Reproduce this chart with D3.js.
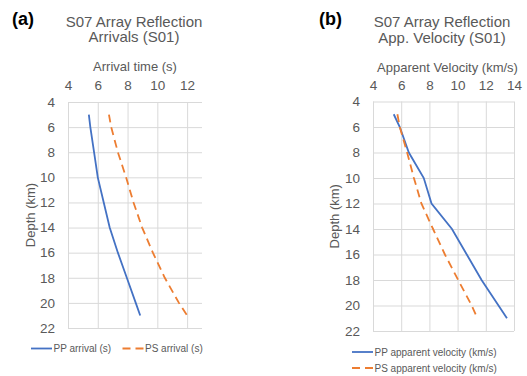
<!DOCTYPE html>
<html lang="en">
  <head>
    <meta charset="utf-8">
    <title>S07 Array Reflection</title>
    <script src="https://cdn.jsdelivr.net/npm/d3@7"></script>
    <style>
      body { margin: 0; background: #fff; }
      text { font-family: 'Liberation Sans', Arial, sans-serif; fill: #595959; }
    </style>
  </head>
  <body>
    <div id='chart'></div>

    <script type='text/javascript'>
      // depth points (km)
      let depths = [5, 6, 8, 10, 12, 14, 16, 18, 20, 21];

      // (a) arrival times (s)
      let ppArrival = [5.4, 5.5, 5.75, 6.0, 6.4, 6.8, 7.35, 7.95, 8.55, 8.85];
      let psArrival = [6.75, 6.9, 7.35, 7.9, 8.4, 8.98, 9.7, 10.5, 11.45, 12.0];

      // (b) apparent velocities (km/s)
      let ppVelocity = [5.47, 5.9, 6.54, 7.6, 8.15, 9.6, 10.65, 11.7, 12.9, 13.5];
      let psVelocity = [5.73, 5.9, 6.42, 6.9, 7.43, 8.26, 9.1, 10.04, 11.0, 11.4];

      let depthTicks = [4, 6, 8, 10, 12, 14, 16, 18, 20, 22];
      let timeTicks = [4, 6, 8, 10, 12];
      let velocityTicks = [4, 6, 8, 10, 12, 14];

      let blue = '#4472c4', orange = '#ed7d31', grid = '#d9d9d9';

      let svg = d3.select('#chart').append('svg')
        .attr('width', 527)
        .attr('height', 376)

      let panels = [
        { label: '(a)', labelX: 12, title: ['S07 Array Reflection', 'Arrivals (S01)'],
          titleX: 134, titleY: [26.5, 41.5], axisTitle: 'Arrival time (s)', axisTitleY: 71,
          left: 68, right: 202, top: 102, bottom: 328, xDomain: [4, 13], xTicks: timeTicks,
          depthX: 30,
          series: [
            { name: 'PP arrival (s)', values: ppArrival, color: blue },
            { name: 'PS arrival (s)', values: psArrival, color: orange, dash: '8,5' }
          ],
          legend: [ {x: 31, y: 348.5}, {x: 122.5, y: 348.5} ] },
        { label: '(b)', labelX: 319, title: ['S07 Array Reflection', 'App. Velocity (S01)'],
          titleX: 442, titleY: [27, 42.5], axisTitle: 'Apparent Velocity (km/s)', axisTitleY: 72,
          left: 373, right: 514, top: 101.5, bottom: 331, xDomain: [4, 14], xTicks: velocityTicks,
          depthX: 334,
          series: [
            { name: 'PP apparent velocity (km/s)', values: ppVelocity, color: blue },
            { name: 'PS apparent velocity (km/s)', values: psVelocity, color: orange, dash: '8,5' }
          ],
          legend: [ {x: 352, y: 352}, {x: 352, y: 368} ] }
      ];

      panels.forEach(drawPanel);

      function drawPanel(p){
        let x = d3.scaleLinear().domain(p.xDomain).range([p.left, p.right]);
        let y = d3.scaleLinear().domain([4, 22]).range([p.top, p.bottom]);
        let g = svg.append('g');

        // panel letter
        g.append('text')
          .attr('x', p.labelX)
          .attr('y', 25)
          .attr('font-family', 'DejaVu Sans')
          .attr('font-weight', 'bold')
          .attr('font-size', 18)
          .style('fill', '#000')
          .text(p.label)

        // title
        p.title.forEach((t, i) => {
          g.append('text')
            .attr('x', p.titleX)
            .attr('y', p.titleY[i])
            .attr('text-anchor', 'middle')
            .attr('font-size', 15)
            .text(t)
        })

        g.append('text')
          .attr('x', (p.left + p.right) / 2 + (p.label == '(b)' ? 4 : 0))
          .attr('y', p.axisTitleY)
          .attr('text-anchor', 'middle')
          .attr('font-size', 13)
          .text(p.axisTitle)

        // x axis on top, ticks drawn as gridlines
        let xAxis = g.append('g')
          .attr('transform', 'translate(0,' + p.top + ')')
          .call(d3.axisTop(x).tickValues(p.xTicks).tickSize(-(p.bottom - p.top)).tickPadding(12))
        xAxis.select('.domain').remove()
        xAxis.selectAll('line').attr('stroke', grid)
        xAxis.selectAll('text').attr('font-size', 13.5).style('fill', '#595959')

        let yAxis = g.append('g')
          .attr('transform', 'translate(' + p.left + ',0)')
          .call(d3.axisLeft(y).tickValues(depthTicks).tickSize(-(p.right - p.left)).tickPadding(13))
        yAxis.select('.domain').remove()
        yAxis.selectAll('line').attr('stroke', grid)
        yAxis.selectAll('text').attr('font-size', 13.5).style('fill', '#595959')

        g.append('text')
          .attr('transform', 'translate(' + (p.depthX + 4.5) + ',' + ((p.top + p.bottom) / 2) + ') rotate(-90)')
          .attr('text-anchor', 'middle')
          .attr('font-size', 13)
          .text('Depth (km)')

        let line = d3.line()
          .x((d) => x(d[1]))
          .y((d) => y(d[0]))

        p.series.forEach((s, i) => {
          g.append('path')
            .datum(depths.map((dep, j) => [dep, s.values[j]]))
            .attr('d', line)
            .attr('fill', 'none')
            .attr('stroke', s.color)
            .attr('stroke-width', 1.8)
            .attr('stroke-dasharray', s.dash || null)

          // legend entry
          let lg = p.legend[i];
          g.append('line')
            .attr('x1', lg.x).attr('x2', lg.x + 21)
            .attr('y1', lg.y).attr('y2', lg.y)
            .attr('stroke', s.color)
            .attr('stroke-width', 1.8)
            .attr('stroke-dasharray', s.dash || null)
          g.append('text')
            .attr('x', lg.x + 22.5)
            .attr('y', lg.y)
            .attr('dy', '0.35em')
            .attr('font-size', 10)
            .text(s.name)
        })
      }
    </script>
  </body>
</html>
